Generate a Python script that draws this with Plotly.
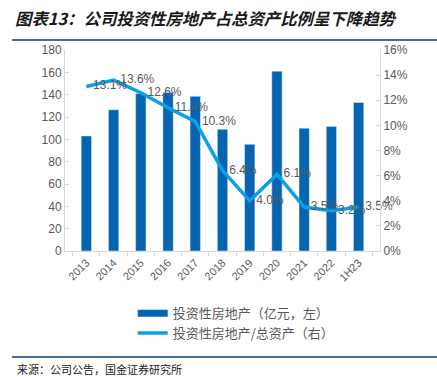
import plotly.graph_objects as go

categories = ["2013", "2014", "2015", "2016", "2017", "2018", "2019", "2020", "2021", "2022", "1H23"]
property_value = [103, 126.5, 141, 142, 138.5, 109, 95.5, 161, 110, 111.5, 133]
property_ratio = [13.1, 13.6, 12.6, 11.4, 10.3, 6.4, 4.0, 6.1, 3.5, 3.2, 3.5]
ratio_labels = [f"{v:.1f}%" for v in property_ratio]

BAR = "#0565B1"
LINE = "#0AA0E6"
GRAY = "#595959"
AXIS = "#D9D9D9"
FONT = "Liberation Sans, Arial, Noto Sans CJK SC, sans-serif"
CJK = "Noto Sans CJK SC, sans-serif"

fig = go.Figure()
fig.add_trace(go.Bar(
    x=categories, y=property_value, marker_color=BAR, width=0.38,
    showlegend=False, name="投资性房地产（亿元，左）", yaxis="y"))
fig.add_trace(go.Scatter(
    x=categories, y=property_ratio, mode="lines+markers+text", yaxis="y2",
    line=dict(color=LINE, width=3.5), marker=dict(size=9, opacity=0, color=LINE),
    text=ratio_labels,
    textposition="middle right", textfont=dict(size=12, color=GRAY, family=FONT),
    cliponaxis=False, showlegend=False))
# legend entries
fig.add_trace(go.Scatter(x=[None], y=[None], mode="lines",
                         line=dict(color=BAR, width=7),
                         name="投资性房地产（亿元，左）"))
fig.add_trace(go.Scatter(x=[None], y=[None], mode="lines", yaxis="y2",
                         line=dict(color=LINE, width=3.5),
                         name="投资性房地产/总资产（右）"))

fig.update_layout(
    width=437, height=377,
    margin=dict(l=65, r=57, t=50, b=126, autoexpand=False),
    paper_bgcolor="white", plot_bgcolor="white",
    font=dict(family=FONT, color=GRAY, size=12),
    bargap=0.6,
    xaxis=dict(showline=True, linecolor=AXIS, linewidth=1, tickangle=-45,
               ticks="outside", ticklen=4, tickcolor=AXIS, tickson="boundaries",
               tickfont=dict(size=11, color=GRAY), showgrid=False, automargin=False),
    yaxis=dict(range=[0, 180], dtick=20, showline=True, linecolor=AXIS,
               showgrid=False, zeroline=False, ticks="inside", ticklen=4,
               tickcolor=AXIS, tickfont=dict(size=12, color=GRAY), automargin=False),
    yaxis2=dict(range=[0, 16], dtick=2, ticksuffix="%", overlaying="y",
                side="right", showline=True, linecolor=AXIS, showgrid=False,
                zeroline=False, ticks="inside", ticklen=4, tickcolor=AXIS,
                tickfont=dict(size=12, color=GRAY), automargin=False),
    legend=dict(orientation="v", x=0.215, y=-0.235, xanchor="left", yanchor="top",
                font=dict(size=13, color=GRAY, family=CJK), itemwidth=30,
                tracegroupgap=4, bgcolor="rgba(0,0,0,0)"),
    annotations=[
        dict(text="<b><i>图表13：公司投资性房地产占总资产比例呈下降趋势</i></b>",
             xref="paper", yref="paper", x=-0.165, y=1.16, xanchor="left",
             yanchor="middle", showarrow=False,
             font=dict(size=16.4, color="#1a1a1a", family=CJK)),
        dict(text="来源：公司公告，国金证券研究所",
             xref="paper", yref="paper", x=-0.16, y=-0.587, xanchor="left",
             yanchor="middle", showarrow=False,
             font=dict(size=11, color="#1a1a1a", family=CJK)),
    ],
    shapes=[
        dict(type="line", xref="paper", yref="paper", x0=-0.168, x1=1.181,
             y0=1.0498, y1=1.0498, line=dict(color="#4A6E8C", width=2)),
        dict(type="line", xref="paper", yref="paper", x0=-0.168, x1=1.181,
             y0=-0.527, y1=-0.527, line=dict(color="#4A6E8C", width=2)),
    ],
)

fig.write_html("out.html", config={"displayModeBar": False},
               post_script="document.body.style.margin='0';")
